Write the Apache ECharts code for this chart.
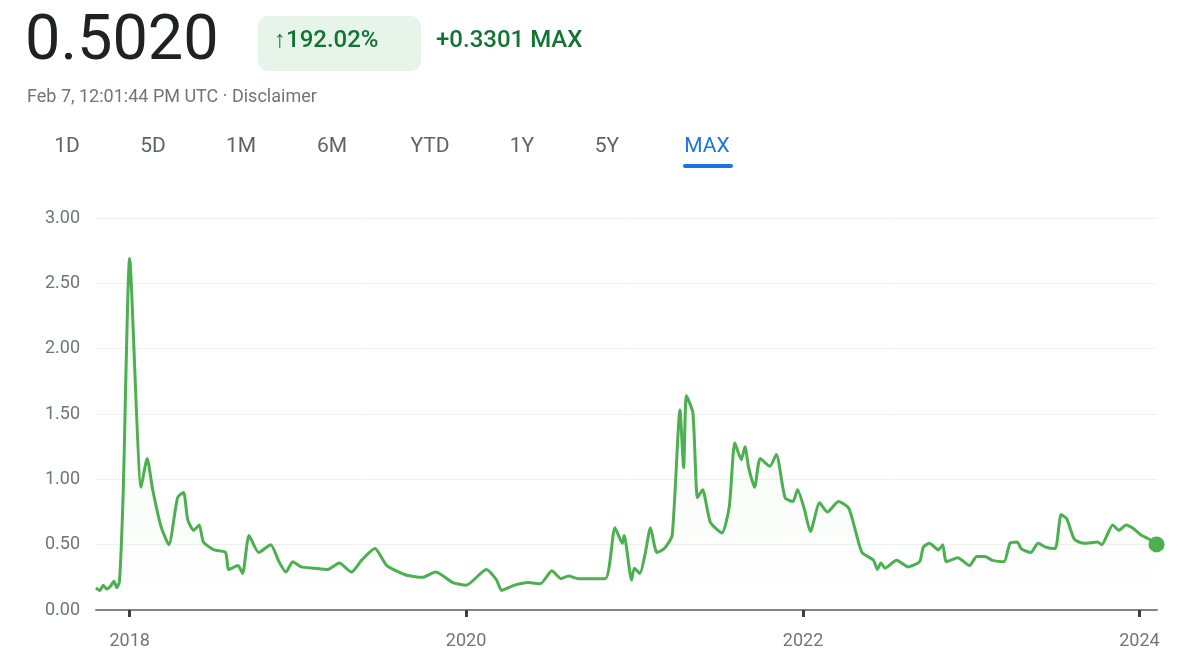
<!DOCTYPE html>
<html><head><meta charset="utf-8">
<script src="https://cdn.jsdelivr.net/npm/echarts@6/dist/echarts.min.js"></script>
<style>html,body{margin:0;padding:0;background:#fff}#c{width:1200px;height:667px}</style>
</head><body><div id="c"></div>
<script>
const dates = ["2017-10-20","2017-10-28","2017-11-05","2017-11-12","2017-11-20","2017-11-28","2017-12-04","2017-12-10","2017-12-18","2018-01-01","2018-01-26","2018-02-08","2018-02-20","2018-03-10","2018-03-27","2018-04-15","2018-04-28","2018-05-07","2018-05-20","2018-06-01","2018-06-10","2018-07-03","2018-07-28","2018-08-04","2018-08-24","2018-09-03","2018-09-17","2018-10-08","2018-11-03","2018-11-21","2018-12-06","2018-12-21","2019-01-08","2019-02-05","2019-03-07","2019-04-01","2019-04-27","2019-05-19","2019-06-17","2019-07-13","2019-08-22","2019-09-28","2019-10-27","2019-12-03","2020-01-01","2020-02-14","2020-03-07","2020-03-18","2020-04-15","2020-05-15","2020-06-10","2020-07-05","2020-07-25","2020-08-10","2020-09-01","2020-10-29","2020-11-19","2020-12-05","2020-12-09","2020-12-25","2020-12-31","2021-01-12","2021-01-24","2021-02-04","2021-02-18","2021-03-06","2021-03-23","2021-04-09","2021-04-17","2021-04-23","2021-05-07","2021-05-17","2021-05-28","2021-06-14","2021-07-09","2021-07-25","2021-08-06","2021-08-20","2021-08-28","2021-09-05","2021-09-18","2021-09-30","2021-10-21","2021-11-04","2021-11-23","2021-12-10","2021-12-20","2022-01-04","2022-01-17","2022-02-06","2022-02-23","2022-03-19","2022-04-10","2022-04-26","2022-05-09","2022-06-03","2022-06-11","2022-06-19","2022-06-28","2022-07-23","2022-08-17","2022-09-11","2022-09-19","2022-10-02","2022-10-22","2022-10-31","2022-11-08","2022-12-03","2022-12-28","2023-01-13","2023-01-30","2023-02-16","2023-03-13","2023-03-26","2023-04-11","2023-04-19","2023-05-10","2023-05-26","2023-06-12","2023-07-02","2023-07-15","2023-07-27","2023-08-13","2023-09-03","2023-10-02","2023-10-11","2023-11-04","2023-11-17","2023-12-03","2023-12-20","2024-01-06","2024-01-23","2024-02-07"];
const values = [0.17,0.15,0.19,0.16,0.18,0.22,0.17,0.22,0.9,2.69,0.94,1.16,0.92,0.64,0.50,0.86,0.90,0.69,0.61,0.65,0.52,0.46,0.44,0.31,0.34,0.28,0.57,0.44,0.50,0.37,0.29,0.37,0.33,0.32,0.31,0.36,0.29,0.38,0.47,0.34,0.27,0.25,0.29,0.21,0.19,0.31,0.23,0.15,0.19,0.21,0.20,0.30,0.24,0.26,0.24,0.24,0.63,0.51,0.57,0.23,0.32,0.28,0.44,0.63,0.44,0.47,0.57,1.53,1.09,1.64,1.51,0.86,0.92,0.67,0.59,0.79,1.28,1.15,1.25,1.09,0.94,1.16,1.10,1.19,0.86,0.83,0.92,0.77,0.60,0.82,0.75,0.83,0.78,0.59,0.44,0.38,0.31,0.36,0.32,0.38,0.33,0.37,0.48,0.51,0.46,0.50,0.37,0.40,0.34,0.41,0.41,0.38,0.37,0.51,0.52,0.47,0.44,0.51,0.48,0.47,0.73,0.70,0.54,0.51,0.52,0.50,0.65,0.61,0.65,0.62,0.57,0.54,0.502];
const yTicks = [0,0.5,1,1.5,2,2.5,3];
const xTickLabels = ["2018-01-01","2020-01-01","2022-01-01","2024-01-01"];
const tabs = ["1D","5D","1M","6M","YTD","1Y","5Y","MAX"];
const tabX = [67,153,241,332,430,522,607,707];

const ms = d => Date.parse(d+'T00:00:00Z');
const series = dates.map((d,i)=>[ms(d),values[i]]);
const xTicks = xTickLabels.map(ms);
const chart = echarts.init(document.getElementById('c'));
const F = 'Roboto, Arial, sans-serif';
const graphics = [
  {type:'text',left:25,top:12,style:{text:'0.5020',font:'400 63px '+F,fill:'#202124'}},
  {type:'rect',shape:{x:258,y:16,width:163,height:55,r:10},style:{fill:'#e6f4ea'}},
  {type:'text',left:274,top:29,style:{text:'↑192.02%',font:'500 24px '+F,fill:'#137333'}},
  {type:'text',left:436,top:29,style:{text:'+0.3301 MAX',font:'500 24px '+F,fill:'#137333'}},
  {type:'text',left:27,top:88,style:{text:'Feb 7, 12:01:44 PM UTC · Disclaimer',font:'400 18px '+F,fill:'#70757a'}},
  {type:'rect',shape:{x:683,y:164,width:50,height:4,r:2},style:{fill:'#1a73e8'}}
];
tabs.forEach((t,i)=>graphics.push({type:'text',x:tabX[i],y:147,style:{text:t,font:'400 21px '+F,fill:t==='MAX'?'#1a73e8':'#5f6368',align:'center',verticalAlign:'middle'}}));

chart.setOption({
  animation:false,
  graphic:graphics,
  grid:{left:96,right:43,top:218,bottom:57},
  xAxis:{type:'value',min:ms('2017-10-20'),max:ms('2024-02-08'),
    axisLine:{lineStyle:{color:'#80868b',width:2}},
    axisTick:{show:true,customValues:xTicks,length:7,lineStyle:{color:'#3c4043',width:3}},
    axisLabel:{customValues:xTicks,formatter:v=>String(new Date(v).getUTCFullYear()),color:'#70757a',fontSize:18,fontFamily:F,margin:22},
    splitLine:{show:false}},
  yAxis:{type:'value',min:0,max:3,interval:0.5,
    axisLabel:{formatter:v=>v.toFixed(2),color:'#70757a',fontSize:18,fontFamily:F,margin:16},
    axisLine:{show:false},axisTick:{show:false},
    splitLine:{lineStyle:{color:'#eef2ef',width:1}}},
  series:[
    {type:'line',data:series,showSymbol:false,smooth:0.2,
     lineStyle:{color:'#4caf50',width:3},
     areaStyle:{color:new echarts.graphic.LinearGradient(0,0,0,1,[{offset:0,color:'rgba(76,175,80,0.12)'},{offset:1,color:'rgba(76,175,80,0)'}])}},
    {type:'scatter',data:[series[series.length-1]],symbolSize:16,itemStyle:{color:'#4caf50',opacity:1},z:5}
  ]
});
</script></body></html>
